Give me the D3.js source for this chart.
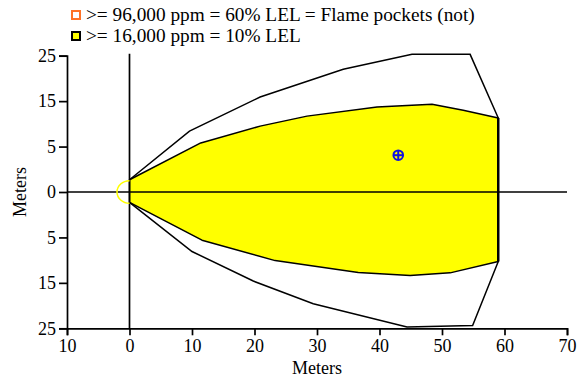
<!DOCTYPE html>
<html>
<head>
<meta charset="utf-8">
<script src="https://cdn.jsdelivr.net/npm/d3@7"></script>
<style>
  body { margin: 0; background: #fff; }
  svg { font-family: "Liberation Serif", "Times New Roman", serif; }
</style>
</head>
<body>
<div id="chart"></div>
<script>
// axis ticks (labels as printed on the original plot)
const xTicks = [-10, 0, 10, 20, 30, 40, 50, 60, 70]
const xTickLabels = ['10', '0', '10', '20', '30', '40', '50', '60', '70']
const yTicks = [30, 20, 10, 0, -10, -20, -30]
const yTickLabels = ['25', '15', '5', '0', '5', '15', '25']

// 10% LEL threat zone (yellow), upper and lower edges
const zoneUpper = [[0, 2.7], [11.4, 10.8], [20.9, 14.5], [28.4, 16.7], [39.6, 18.7], [48.4, 19.3], [53.4, 18.0], [59, 16.3]]
const zoneLower = [[0, -2.3], [11.6, -10.6], [23.3, -15.1], [36.6, -17.7], [44.9, -18.4], [51.3, -17.8], [59, -15.3]]

// wind direction confidence lines
const confUpper = [[0, 2.7], [9.6, 13.4], [20.9, 20.9], [34.2, 27.0], [45.2, 30.3], [54.5, 30.3], [59, 16.3]]
const confLower = [[0, -2.3], [10.0, -13.1], [19.8, -19.6], [29.4, -24.6], [44.4, -29.7], [54.9, -29.4], [59, -15.3]]

const sourceRadius = [2, 2.5]
const marker = [43, 8.1]

const legendLabels = ['>= 96,000 ppm = 60% LEL = Flame pockets (not)', '>= 16,000 ppm = 10% LEL']
const legendFills = ['#ffffff', '#ffff00']
const legendStrokes = ['#ff7226', '#000000']

const width = 579, height = 378
const margin = {top: 55.7, right: 12, bottom: 49.7, left: 67}

const svg = d3.select('#chart').append('svg')
    .attr('width', width)
    .attr('height', height)

const x = d3.scaleLinear()
    .domain([-10, 70])
    .range([margin.left, width - margin.right])

const y = d3.scaleLinear()
    .domain([-30, 30])
    .range([height - margin.bottom, margin.top])

const line = d3.line().x(d => x(d[0])).y(d => y(d[1]))

// yellow zone
svg.append('path')
    .attr('d', line(zoneUpper.concat(zoneLower.slice().reverse())) + 'Z')
    .attr('fill', '#ffff00')
    .attr('stroke', '#000')
    .attr('stroke-width', 1.5)
    .attr('stroke-linejoin', 'round')

// right edge of zone is drawn heavier
svg.append('line')
    .attr('x1', x(59)).attr('x2', x(59))
    .attr('y1', y(16.3)).attr('y2', y(-15.3))
    .attr('stroke', '#000')
    .attr('stroke-width', 2.5)

svg.selectAll('.conf')
    .data([confUpper, confLower])
    .enter()
    .append('path')
    .attr('class', 'conf')
    .attr('d', d => line(d))
    .attr('fill', 'none')
    .attr('stroke', '#000')
    .attr('stroke-width', 1.5)

// centre lines
svg.append('line')
    .attr('x1', x(-10)).attr('x2', x(70))
    .attr('y1', y(0)).attr('y2', y(0))
    .attr('stroke', '#000')
    .attr('stroke-width', 1.7)

svg.append('line')
    .attr('x1', x(0)).attr('x2', x(0))
    .attr('y1', y(30) - 2).attr('y2', y(-30))
    .attr('stroke', '#000')
    .attr('stroke-width', 1.7)

// source semicircle
const rx = x(0) - x(-sourceRadius[0]), ry = y(0) - y(sourceRadius[1])
svg.append('path')
    .attr('d', `M${x(0)},${y(sourceRadius[1])} A${rx},${ry} 0 0 0 ${x(0)},${y(-sourceRadius[1])}`)
    .attr('fill', 'none')
    .attr('stroke', '#ffff00')
    .attr('stroke-width', 1.5)

// marker
const mg = svg.append('g')
    .attr('transform', `translate(${x(marker[0])},${y(marker[1])})`)
    .attr('stroke', '#1010e0')
    .attr('stroke-width', 2)
    .attr('fill', 'none')
mg.append('circle').attr('r', 4.8)
mg.append('line').attr('x1', -4.8).attr('x2', 4.8)
mg.append('line').attr('y1', -4.8).attr('y2', 4.8)

// axes
const xAxis = d3.axisBottom(x)
    .tickValues(xTicks)
    .tickFormat((d, i) => xTickLabels[i])
    .tickSize(7)
    .tickPadding(4)

const yAxis = d3.axisLeft(y)
    .tickValues(yTicks)
    .tickFormat((d, i) => yTickLabels[i])
    .tickSize(8)
    .tickPadding(3)

const gx = svg.append('g')
    .attr('transform', `translate(0,${y(-30)})`)
    .call(xAxis)

const gy = svg.append('g')
    .attr('transform', `translate(${x(-10)},0)`)
    .call(yAxis)

for (const g of [gx, gy]) {
    g.selectAll('path, line').attr('stroke', '#000').attr('stroke-width', 1.7)
    g.selectAll('text').attr('font-size', 18).attr('fill', '#000')
        .attr('font-family', '"Liberation Serif", "Times New Roman", serif')
}

svg.append('text')
    .attr('x', (x(-10) + x(70)) / 2)
    .attr('y', 374)
    .attr('text-anchor', 'middle')
    .attr('font-size', 18)
    .text('Meters')

svg.append('text')
    .attr('transform', `translate(26,${y(0)}) rotate(-90)`)
    .attr('text-anchor', 'middle')
    .attr('font-size', 18)
    .text('Meters')

// legend
const legend = svg.selectAll('.legend')
    .data(legendLabels)
    .enter()
    .append('g')
    .attr('class', 'legend')
    .attr('transform', (d, i) => `translate(71,${10 + i * 21})`)

legend.append('rect')
    .attr('x', 1).attr('y', 1)
    .attr('width', 8).attr('height', 8)
    .attr('fill', (d, i) => legendFills[i])
    .attr('stroke', (d, i) => legendStrokes[i])
    .attr('stroke-width', 2)

legend.append('text')
    .attr('x', 15)
    .attr('y', 11)
    .attr('font-size', 19.3)
    .text(d => d)
</script>
</body>
</html>
